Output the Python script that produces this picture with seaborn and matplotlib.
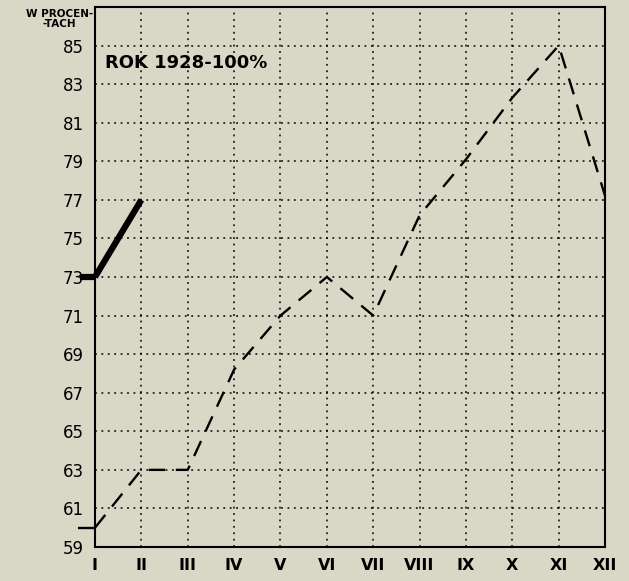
import matplotlib
matplotlib.use("Agg")
import matplotlib.pyplot as plt
import seaborn as sns
import pandas as pd

# monthly index values, year 1928 = 100%
months = ["I", "II", "III", "IV", "V", "VI", "VII", "VIII", "IX", "X", "XI", "XII"]
values_1929 = [60, 63, 63, 68.2, 71, 73, 71, 76.2, 79.1, 82.3, 85, 77.2]
values_1930 = [73, 77]
y_ticks = list(range(59, 86, 2))

BG = "#d9d8c7"
LEFT_STUB = [(-1, 0), (0, 0)]

sns.set_style("white")
plt.rcParams["font.family"] = ["DejaVu Sans"]
plt.rcParams["text.color"] = "black"
plt.rcParams["xtick.color"] = "black"
plt.rcParams["ytick.color"] = "black"

df_a = pd.DataFrame({"pos": range(len(values_1929)), "val": values_1929})
df_b = pd.DataFrame({"pos": range(len(values_1930)), "val": values_1930})

fig = plt.figure(figsize=(6.29, 5.81), dpi=100, facecolor=BG)
ax = fig.add_axes([0.151, 0.0585, 0.811, 0.9295])
ax.set_facecolor(BG)

sns.lineplot(data=df_a, x="pos", y="val", ax=ax, color="black", lw=1.7,
             marker=LEFT_STUB, markersize=24, markeredgewidth=1.7,
             markeredgecolor="black", markevery=[0],
             clip_on=False, zorder=3)
ax.lines[-1].set_dashes((7, 4.5))
sns.lineplot(data=df_b, x="pos", y="val", ax=ax, color="black", lw=4.5,
             marker=LEFT_STUB, markersize=22, markeredgewidth=4.5,
             markeredgecolor="black", markevery=[0],
             clip_on=False, zorder=4, solid_capstyle="butt")

ax.set_xlim(0, len(months) - 1)
ax.set_ylim(59, 87)
ax.set_xticks(range(len(months)))
ax.set_xticklabels(months, fontweight="bold", fontsize=11.5)
ax.set_yticks(y_ticks)
ax.set_yticklabels([str(t) for t in y_ticks], fontsize=12)
ax.tick_params(length=0, pad=8)
ax.set_xlabel("")
ax.set_ylabel("")

ax.grid(True, color="black", linestyle=(0, (1.2, 3)), linewidth=1.1)
for s in ax.spines.values():
    s.set_color("black")
    s.set_linewidth(1.5)

ax.text(0.22, 84.1, "ROK 1928-100%", fontsize=13, fontweight="bold",
        va="center", ha="left", zorder=5)
fig.text(0.095, 0.985, "W PROCEN-\n-TACH", fontsize=7.5, fontweight="bold",
         ha="center", va="top", linespacing=1.0)

fig.savefig("out.png", dpi=100, facecolor=BG)
